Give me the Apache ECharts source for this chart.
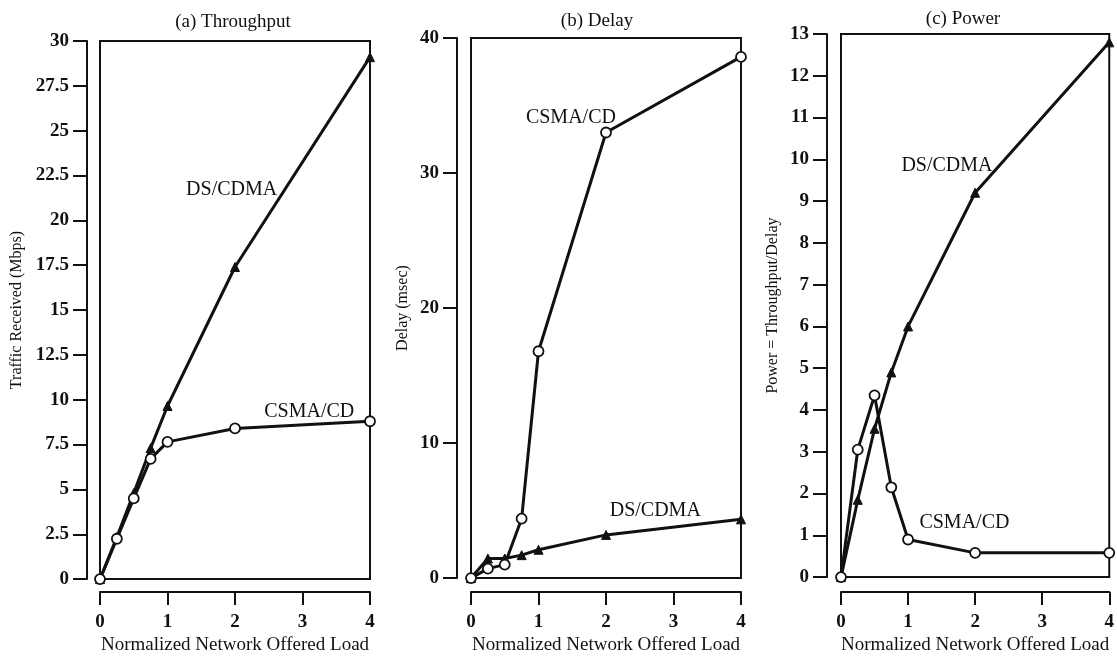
<!DOCTYPE html>
<html>
<head>
<meta charset="utf-8">
<script src="https://cdn.jsdelivr.net/npm/echarts@6/dist/echarts.min.js"></script>
<style>
html,body{margin:0;padding:0;background:#fff;}
#c{width:1117px;height:660px;}
</style>
</head>
<body>
<div id="c"></div>
<script>
// ---- data ----
const loads = [0, 0.25, 0.5, 0.75, 1, 2, 4];
const thrDS = [0, 2.35, 4.8, 7.3, 9.65, 17.4, 29.1];
const thrCS = [0, 2.25, 4.5, 6.7, 7.65, 8.4, 8.8];
const delCS = [0, 0.7, 1.0, 4.4, 16.8, 33.0, 38.6];
const delDS = [0, 1.45, 1.45, 1.7, 2.1, 3.2, 4.35];
const powDS = [0, 1.85, 3.55, 4.9, 6.0, 9.2, 12.8];
const powCS = [0, 3.05, 4.35, 2.15, 0.9, 0.58, 0.58];

const titles = ['(a) Throughput', '(b) Delay', '(c) Power'];
const yNames = ['Traffic Received (Mbps)', 'Delay (msec)', 'Power = Throughput/Delay'];
const xName = 'Normalized Network Offered Load';
const yMax = [30, 40, 13];
const yStep = [2.5, 10, 1];
const xMax = 4, xStep = 1;
// annotation positions in data coordinates
const notes = [
  [['DS/CDMA', 1.95, 21.7], ['CSMA/CD', 3.1, 9.35]],
  [['CSMA/CD', 1.48, 34.1], ['DS/CDMA', 2.73, 5.0]],
  [['DS/CDMA', 1.58, 9.84], ['CSMA/CD', 1.84, 1.29]]
];

const serif = 'Liberation Serif';
const ink = '#111';

const grids = [
  {left: 100, top: 41, width: 270, height: 543},
  {left: 471, top: 38, width: 270, height: 544},
  {left: 841, top: 34, width: 269, height: 544}
];
const yNameGap = [62, 46, 46];
const xOffset = [13, 14, 15];
const yOffset = [13, 14, 14];
const titleX = [228, 592, 958];
const titleTop = [8, 7, 5];

function pairs(xs, ys){ return xs.map((x,i)=>[x, ys[i]]); }

const option = {
  backgroundColor: '#fff',
  animation: false,
  title: titles.map((t,i)=>({
    text: t, left: titleX[i], top: titleTop[i], textAlign: 'center',
    textStyle: {fontFamily: serif, fontSize: 19, fontWeight: 'normal', color: ink}
  })),
  grid: grids.map(g=>Object.assign({show:true, borderColor: ink, borderWidth: 2, backgroundColor:'transparent'}, g)),
  xAxis: grids.map((g,i)=>({
    type: 'value', gridIndex: i, min: 0, max: xMax, interval: xStep,
    offset: xOffset[i], position: 'bottom',
    name: xName, nameLocation: 'middle', nameGap: 41,
    nameTextStyle: {fontFamily: serif, fontSize: 19, color: ink},
    axisLine: {show: true, onZero: false, lineStyle: {color: ink, width: 2}},
    axisTick: {show: true, inside: false, length: 13, lineStyle: {color: ink, width: 2}},
    axisLabel: {margin: 20, fontFamily: serif, fontSize: 19, fontWeight: 'bold', color: ink},
    splitLine: {show: false}
  })),
  yAxis: grids.map((g,i)=>({
    type: 'value', gridIndex: i, min: 0, max: yMax[i], interval: yStep[i],
    offset: yOffset[i], position: 'left',
    name: yNames[i], nameLocation: 'middle', nameGap: yNameGap[i],
    nameTextStyle: {fontFamily: serif, fontSize: 16, color: ink},
    axisLine: {show: true, onZero: false, lineStyle: {color: ink, width: 2}},
    axisTick: {show: true, inside: false, length: 14, lineStyle: {color: ink, width: 2}},
    axisLabel: {margin: 18, fontFamily: serif, fontSize: 19, fontWeight: 'bold', color: ink},
    splitLine: {show: false}
  })),
  series: []
};

const panelData = [[thrDS, thrCS], [delDS, delCS], [powDS, powCS]];
panelData.forEach((pd, i)=>{
  // DS/CDMA triangles
  option.series.push({
    type: 'line', xAxisIndex: i, yAxisIndex: i, data: pairs(loads, pd[0]),
    symbol: 'triangle', symbolSize: 9,
    lineStyle: {color: ink, width: 3},
    itemStyle: {color: ink, borderColor: ink, borderWidth: 1},
    z: 3,
    markPoint: {
      symbol: 'circle', symbolSize: 0, silent: true,
      label: {show: true, position: 'inside', fontFamily: serif, fontSize: 20, color: ink, formatter: p=>p.name},
      data: notes[i].map(n=>({name: n[0], coord: [n[1], n[2]]}))
    }
  });
  // CSMA/CD circles
  option.series.push({
    type: 'line', xAxisIndex: i, yAxisIndex: i, data: pairs(loads, pd[1]),
    symbol: 'circle', symbolSize: 10, showAllSymbol: true,
    lineStyle: {color: ink, width: 3},
    itemStyle: {color: '#fff', borderColor: ink, borderWidth: 1.8},
    z: 4
  });
});

const chart = echarts.init(document.getElementById('c'), null, {renderer: 'canvas'});
chart.setOption(option);
</script>
</body>
</html>
